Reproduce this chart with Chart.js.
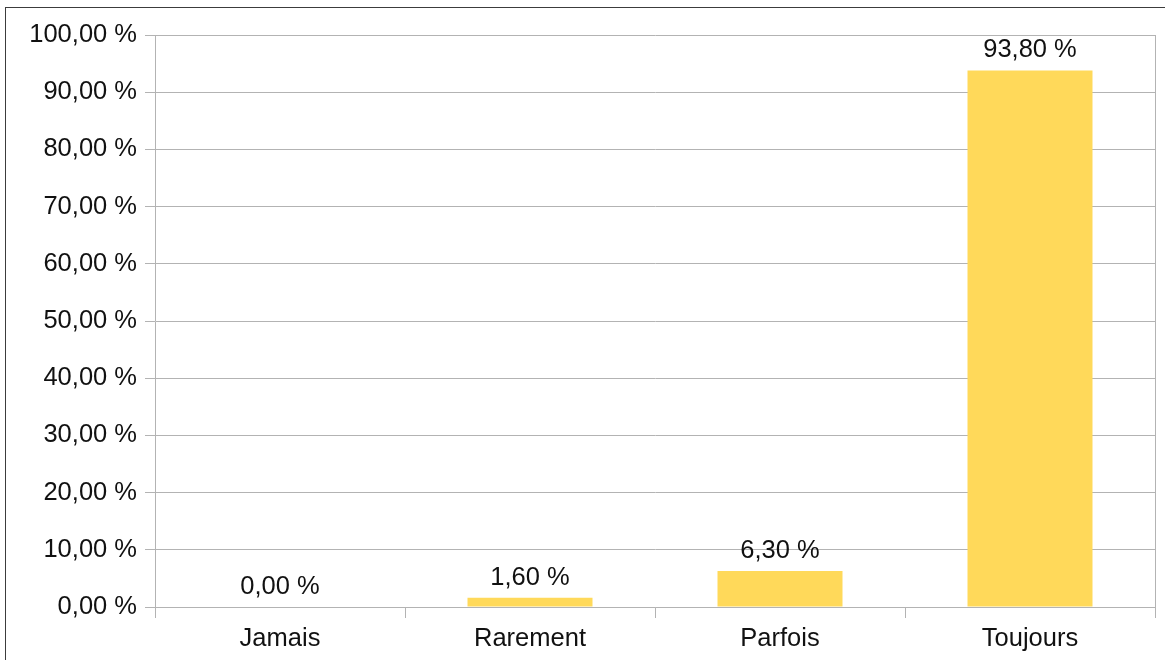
<!DOCTYPE html>
<html>
<head>
<meta charset="utf-8">
<script src="https://cdn.jsdelivr.net/npm/chart.js@4/dist/chart.umd.min.js"></script>
<style>
  html, body { margin: 0; padding: 0; background: #fff; overflow: hidden; }
  #frame { position: absolute; left: 5px; top: 7px; width: 1200px; height: 700px; border: 1px solid #3c3c3c; box-sizing: border-box; }
  #wrap { position: absolute; left: 0; top: 0; width: 1165px; height: 660px; }
</style>
</head>
<body>
<div id="frame"></div>
<div id="wrap"><canvas id="c" width="1165" height="660"></canvas></div>
<script>
const categories = ["Jamais", "Rarement", "Parfois", "Toujours"];
const values = [0.0, 1.6, 6.3, 93.8];
const yTicks = [0, 10, 20, 30, 40, 50, 60, 70, 80, 90, 100];

const FONT = "'Liberation Sans', Arial, sans-serif";
const FSIZE = 25.5;
const GRID = "#b3b3b3";
const TEXT = "#111111";

function fmt(v) {
  return v.toFixed(2).replace(".", ",") + " %";
}

const valueLabels = {
  id: "valueLabels",
  afterDatasetsDraw(chart) {
    const ctx = chart.ctx;
    const meta = chart.getDatasetMeta(0);
    ctx.save();
    ctx.font = FSIZE + "px " + FONT;
    ctx.fillStyle = TEXT;
    ctx.textAlign = "center";
    ctx.textBaseline = "alphabetic";
    meta.data.forEach((bar, i) => {
      ctx.fillText(fmt(values[i]), bar.x, bar.y - 13);
    });
    ctx.restore();
  }
};

const rightEdge = {
  id: "rightEdge",
  beforeDatasetsDraw(chart) {
    const ctx = chart.ctx;
    const a = chart.chartArea;
    ctx.save();
    ctx.strokeStyle = GRID;
    ctx.lineWidth = 1;
    ctx.beginPath();
    ctx.moveTo(Math.round(a.right) + 0.5, a.top);
    ctx.lineTo(Math.round(a.right) + 0.5, a.bottom);
    ctx.stroke();
    ctx.restore();
  }
};

new Chart(document.getElementById("c"), {
  type: "bar",
  data: {
    labels: categories,
    datasets: [{
      data: values,
      backgroundColor: "#ffd95a",
      borderWidth: 0,
      barPercentage: 0.5,
      categoryPercentage: 1.0
    }]
  },
  options: {
    responsive: false,
    animation: false,
    layout: { padding: { left: 0, right: 10, top: 35, bottom: 0 } },
    plugins: { legend: { display: false }, tooltip: { enabled: false } },
    scales: {
      x: {
        grid: { offset: true, drawOnChartArea: false, color: GRID, tickLength: 11 },
        border: { color: GRID },
        ticks: { color: TEXT, font: { family: FONT, size: FSIZE }, padding: 6 },
        afterFit(s) { s.height = 53; }
      },
      y: {
        min: 0, max: 100,
        afterBuildTicks(s) { s.ticks = yTicks.map(v => ({ value: v })); },
        grid: { color: GRID, tickLength: 10 },
        border: { color: GRID },
        ticks: { color: TEXT, font: { family: FONT, size: FSIZE }, padding: 8, callback: v => fmt(v) },
        afterFit(s) { s.width = 155; }
      }
    }
  },
  plugins: [valueLabels, rightEdge]
});
</script>
</body>
</html>
